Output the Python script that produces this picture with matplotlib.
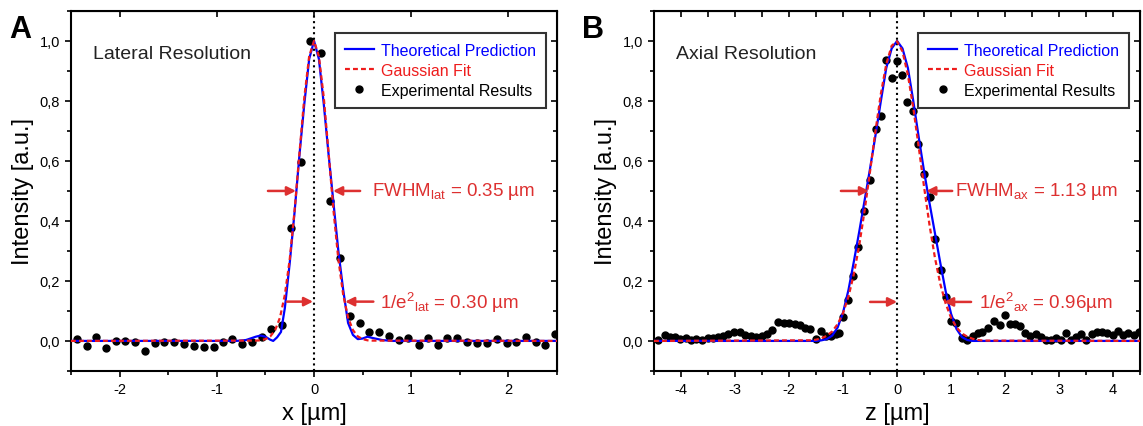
"""Lateral and axial resolution of the microscope PSF"""

import matplotlib
matplotlib.use('Agg')
import matplotlib.pyplot as plt
from matplotlib.ticker import MultipleLocator, FuncFormatter

plt.rcParams['font.family'] = ['Liberation Sans', 'DejaVu Sans']
plt.rcParams['mathtext.fontset'] = 'custom'
plt.rcParams['mathtext.rm'] = 'Liberation Sans'
plt.rcParams['mathtext.default'] = 'regular'
plt.rcParams['axes.unicode_minus'] = False

# ---- Panel A: lateral profile (x in µm) ----
lat_theo_x = [-2.5, -0.8, -0.7, -0.6, -0.55, -0.5, -0.45, -0.42, -0.38, -0.34, -0.3,
              -0.25, -0.2, -0.15, -0.1, -0.05, 0.0, 0.05, 0.1, 0.15, 0.2, 0.25, 0.3,
              0.35, 0.4, 0.45, 0.5, 0.55, 0.6, 0.7, 0.8, 2.5]
lat_theo_y = [0.0, 0.0, 0.003, 0.014, 0.018, 0.014, 0.004, 0.0, 0.012, 0.03, 0.11,
              0.26, 0.43, 0.62, 0.79, 0.94, 1.0, 0.94, 0.79, 0.62, 0.46, 0.30, 0.17,
              0.06, 0.02, 0.006, 0.008, 0.014, 0.01, 0.003, 0.0, 0.0]

lat_fit_x = [-2.5, -0.6, -0.55, -0.5, -0.45, -0.4, -0.35, -0.3, -0.25, -0.2, -0.15,
             -0.1, -0.05, 0.0, 0.05, 0.1, 0.15, 0.2, 0.25, 0.3, 0.35, 0.4, 0.45,
             0.5, 0.55, 0.6, 2.5]
lat_fit_y = [0.0, 0.001, 0.002, 0.006, 0.015, 0.036, 0.078, 0.154, 0.272, 0.435, 0.626,
             0.812, 0.949, 1.0, 0.949, 0.812, 0.626, 0.435, 0.272, 0.154, 0.078, 0.036,
             0.015, 0.006, 0.002, 0.001, 0.0]

lat_exp_x = [-2.44, -2.34, -2.24, -2.14, -2.04, -1.94, -1.84, -1.74, -1.64, -1.54,
             -1.44, -1.34, -1.23, -1.13, -1.03, -0.94, -0.84, -0.74, -0.64, -0.54,
             -0.44, -0.33, -0.24, -0.134, -0.038, 0.072, 0.165, 0.268, 0.371, 0.474,
             0.57, 0.67, 0.77, 0.87, 0.97, 1.075, 1.17, 1.27, 1.37, 1.47, 1.57, 1.68,
             1.78, 1.88, 1.98, 2.08, 2.18, 2.28, 2.38, 2.48]
lat_exp_y = [0.007, -0.016, 0.014, -0.025, 0.0, 0.0, -0.004, -0.032, -0.006, -0.002,
             -0.002, -0.011, -0.017, -0.019, -0.019, -0.002, 0.007, -0.01, -0.002, 0.012,
             0.04, 0.054, 0.375, 0.598, 0.999, 0.96, 0.468, 0.277, 0.084, 0.059,
             0.031, 0.031, 0.015, 0.003, 0.009, -0.013, 0.011, -0.013, 0.011, 0.011, -0.002, -0.008,
             -0.008, 0.006, -0.008, -0.004, 0.012, -0.004, -0.013, 0.023]

# ---- Panel B: axial profile (z in µm) ----
ax_theo_z = [-4.5, -1.5, -1.4, -1.3, -1.2, -1.1, -1.0, -0.9, -0.8, -0.7, -0.6, -0.5,
             -0.4, -0.3, -0.2, -0.1, 0.0, 0.1, 0.2, 0.3, 0.4, 0.5, 0.6, 0.7, 0.8,
             0.9, 1.0, 1.1, 1.2, 1.3, 1.4, 4.5]
ax_theo_y = [0.0, 0.0, 0.002, 0.006, 0.018, 0.045, 0.095, 0.17, 0.265, 0.365, 0.47, 0.575,
             0.685, 0.80, 0.91, 0.975, 1.0, 0.975, 0.91, 0.80, 0.68, 0.565, 0.46, 0.36, 0.26,
             0.165, 0.09, 0.04, 0.013, 0.003, 0.0, 0.0]

ax_fit_z = [-4.5, -1.6, -1.5, -1.4, -1.3, -1.2, -1.1, -1.0, -0.9, -0.8, -0.7, -0.6,
            -0.5, -0.4, -0.3, -0.2, -0.1, 0.0, 0.1, 0.2, 0.3, 0.4, 0.5, 0.6, 0.7,
            0.8, 0.9, 1.0, 1.1, 1.2, 1.3, 1.4, 1.5, 1.6, 4.5]
ax_fit_y = [0.0, 0.002, 0.004, 0.009, 0.017, 0.032, 0.056, 0.093, 0.148, 0.223, 0.320, 0.436,
            0.566, 0.700, 0.824, 0.923, 0.984, 0.999, 0.965, 0.887, 0.777, 0.647, 0.513, 0.387,
            0.278, 0.190, 0.124, 0.077, 0.045, 0.025, 0.014, 0.007, 0.003, 0.001, 0.0]

ax_exp_z = [-4.43, -4.30, -4.21, -4.12, -4.01, -3.90, -3.81, -3.72, -3.61, -3.50, -3.41,
            -3.31, -3.22, -3.13, -3.02, -2.91, -2.82, -2.71, -2.61, -2.51, -2.41, -2.31,
            -2.20, -2.10, -2.00, -1.89, -1.80, -1.71, -1.62, -1.51, -1.40, -1.31, -1.22,
            -1.14, -1.07, -1.00, -0.90, -0.81, -0.72, -0.61, -0.50, -0.39, -0.30, -0.21,
            -0.10, 0.0, 0.10, 0.19, 0.30, 0.39, 0.50, 0.61, 0.70, 0.81, 0.90, 0.99, 1.10,
            1.20, 1.30, 1.40, 1.49, 1.58, 1.68, 1.80, 1.90, 2.00, 2.09, 2.19, 2.27, 2.37,
            2.46, 2.57, 2.66, 2.75, 2.85, 2.94, 3.03, 3.12, 3.22, 3.31, 3.40, 3.49, 3.61,
            3.70, 3.79, 3.88, 3.99, 4.09, 4.19, 4.28, 4.38, 4.48]
ax_exp_y = [0.003, 0.02, 0.012, 0.014, 0.006, 0.011, 0.003, 0.006, 0.003, 0.009, 0.009,
            0.014, 0.018, 0.022, 0.029, 0.029, 0.02, 0.018, 0.012, 0.017, 0.023, 0.037,
            0.062, 0.059, 0.059, 0.057, 0.053, 0.042, 0.039, 0.006, 0.032, 0.015, 0.018,
            0.022, 0.028, 0.079, 0.137, 0.215, 0.313, 0.432, 0.538, 0.706, 0.75, 0.936,
            0.876, 0.934, 0.888, 0.795, 0.767, 0.658, 0.555, 0.48, 0.34, 0.235, 0.147, 0.068, 0.059,
            0.009, 0.004, 0.017, 0.026, 0.03, 0.043, 0.065, 0.053, 0.087, 0.057, 0.056, 0.05, 0.026,
            0.017, 0.022, 0.014, 0.003, 0.003, 0.009, 0.003, 0.026, 0.003, 0.012, 0.022, 0.003, 0.023,
            0.031, 0.031, 0.026, 0.02, 0.033, 0.02, 0.028, 0.02, 0.031]

BLUE = '#0000ff'
RED = '#ee1c1c'
ANN = '#dd3030'


def comma(v, pos):
    return f'{v:.1f}'.replace('.', ',')


def draw_panel(ax, xt, yt, xf, yf, xe, ye, xlim, title, xlabel, top_minor):
    ax.plot(xt, yt, color=BLUE, lw=1.6, label='Theoretical Prediction', zorder=3)
    ax.plot(xf, yf, color=RED, lw=1.6, ls=(0, (2.2, 1.4)), label='Gaussian Fit', zorder=4)
    ax.plot(xe, ye, 'o', color='black', ms=5, label='Experimental Results', zorder=2)
    ax.axvline(0, color='black', ls=':', lw=1.5, zorder=1)

    ax.set_xlim(*xlim)
    ax.set_ylim(-0.1, 1.1)
    ax.xaxis.set_major_locator(MultipleLocator(1))
    ax.xaxis.set_minor_locator(MultipleLocator(0.5))
    ax.yaxis.set_major_locator(MultipleLocator(0.2))
    ax.yaxis.set_minor_locator(MultipleLocator(0.1))
    ax.yaxis.set_major_formatter(FuncFormatter(comma))
    ax.tick_params(which='both', direction='out', width=1.2, labelsize=10.5, top=False, right=False)
    ax.tick_params(which='major', length=4.5)
    ax.tick_params(which='minor', length=3)
    for s in ax.spines.values():
        s.set_linewidth(1.5)

    # mirrored ticks pointing inwards on top and right
    top = ax.secondary_xaxis('top')
    top.xaxis.set_major_locator(MultipleLocator(1))
    if top_minor:
        top.xaxis.set_minor_locator(MultipleLocator(0.5))
    top.tick_params(which='both', direction='in', length=4.5, width=1.2, labeltop=False)
    right = ax.secondary_yaxis('right')
    right.yaxis.set_major_locator(MultipleLocator(0.2))
    right.yaxis.set_minor_locator(MultipleLocator(0.1))
    right.tick_params(which='major', direction='in', length=4.5, width=1.2, labelright=False)
    right.tick_params(which='minor', direction='in', length=3, width=1.2)

    ax.set_xlabel(xlabel, fontsize=17, labelpad=4)
    ax.set_ylabel('Intensity [a.u.]', fontsize=17, labelpad=4)
    ax.text(0.045, 0.882, title, transform=ax.transAxes, fontsize=14, color='#222222', va='center')

    leg = ax.legend(loc='upper right', bbox_to_anchor=(0.978, 0.94), fontsize=11.5,
                    frameon=True, fancybox=False, edgecolor='black', handlelength=1.8,
                    borderpad=0.65, labelspacing=0.3, handletextpad=0.45, borderaxespad=0)
    leg.get_frame().set_linewidth(1.5)
    for txt, c in zip(leg.get_texts(), [BLUE, RED, 'black']):
        txt.set_color(c)


def arrow(ax, tail, head):
    ax.annotate('', xy=head, xytext=tail,
                arrowprops=dict(arrowstyle='-|>', color=ANN, lw=1.8, mutation_scale=13,
                                shrinkA=0, shrinkB=0), zorder=5)


fig = plt.figure(figsize=(11.43, 4.27), dpi=100)
axA = fig.add_axes([0.0621, 0.129, 0.4253, 0.843])
axB = fig.add_axes([0.5722, 0.129, 0.4253, 0.843])

draw_panel(axA, lat_theo_x, lat_theo_y, lat_fit_x, lat_fit_y, lat_exp_x, lat_exp_y,
           (-2.5, 2.5), 'Lateral Resolution', 'x [µm]', False)
draw_panel(axB, ax_theo_z, ax_theo_y, ax_fit_z, ax_fit_y, ax_exp_z, ax_exp_y,
           (-4.5, 4.5), 'Axial Resolution', 'z [µm]', True)

# FWHM and 1/e^2 markers
arrow(axA, (-0.474, 0.5), (-0.186, 0.5))
arrow(axA, (0.474, 0.5), (0.196, 0.5))
axA.text(0.6, 0.5, r'FWHM$_{lat}$ = 0.35 µm', color=ANN, fontsize=13.5, va='center')
arrow(axA, (-0.28, 0.131), (-0.01, 0.131))
arrow(axA, (0.61, 0.131), (0.32, 0.131))
axA.text(0.68, 0.131, r'1/e$^2$$_{lat}$ = 0.30 µm', color=ANN, fontsize=13.5, va='center')

arrow(axB, (-1.04, 0.5), (-0.52, 0.5))
arrow(axB, (1.02, 0.5), (0.54, 0.5))
axB.text(1.07, 0.5, r'FWHM$_{ax}$ = 1.13 µm', color=ANN, fontsize=13.5, va='center')
arrow(axB, (-0.5, 0.13), (0.0, 0.13))
arrow(axB, (1.37, 0.13), (0.87, 0.13))
axB.text(1.52, 0.13, r'1/e$^2$$_{ax}$ = 0.96µm', color=ANN, fontsize=13.5, va='center')

fig.text(0.008, 0.965, 'A', fontsize=22, fontweight='bold', va='top')
fig.text(0.509, 0.965, 'B', fontsize=22, fontweight='bold', va='top')

fig.savefig('out.png', dpi=100)
